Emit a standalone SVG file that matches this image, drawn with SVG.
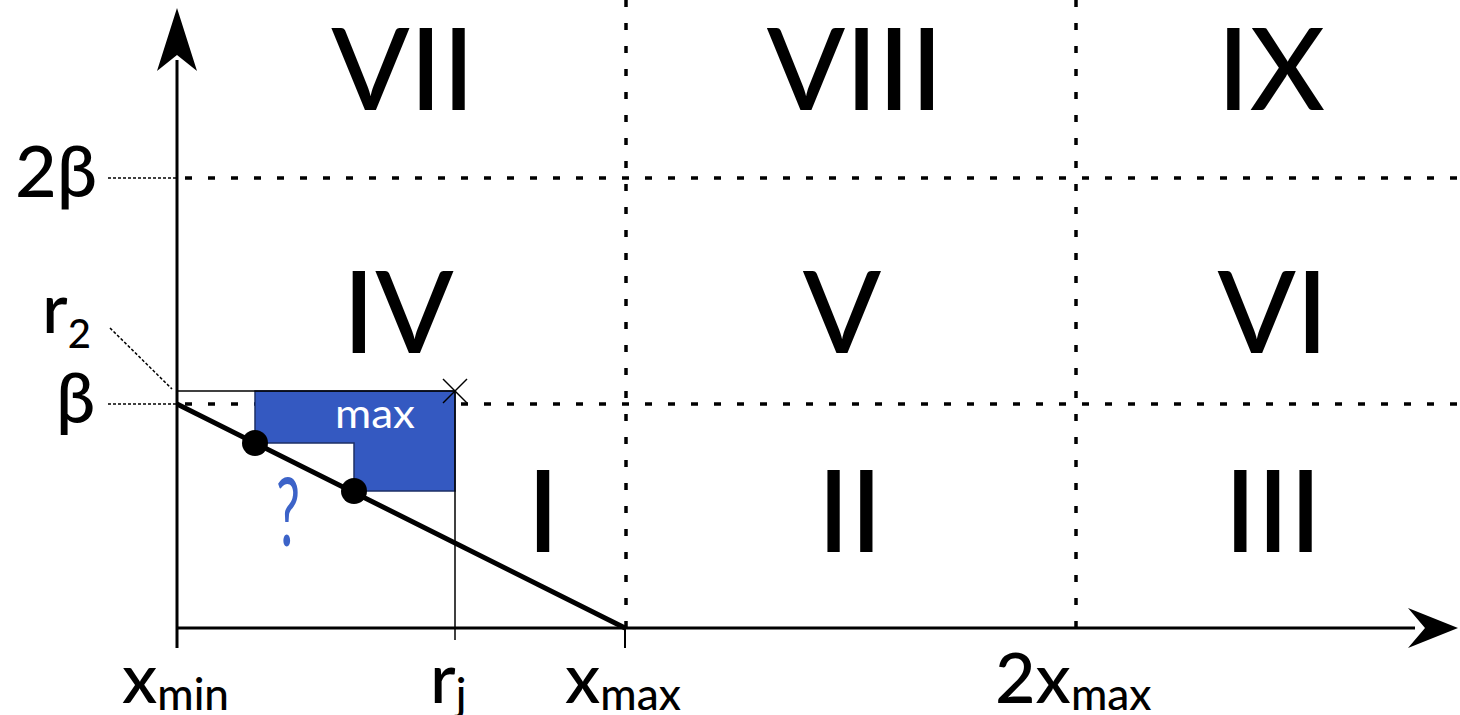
<svg xmlns="http://www.w3.org/2000/svg" width="1460" height="715" viewBox="0 0 1460 715">
<style>
.num{font-family:Lato,"Liberation Sans","DejaVu Sans",sans-serif;font-size:115px;font-weight:500;fill:#000;text-anchor:middle}
.lbl{font-family:Lato,"DejaVu Sans","Liberation Sans",sans-serif;font-weight:500;fill:#000}
.axis{stroke:#000;stroke-width:3;fill:none}
.thin{stroke:#000;stroke-width:1.5;fill:none}
.dash{stroke:#000;stroke-width:3.5;stroke-dasharray:7 16;fill:none}
.fine{stroke:#000;stroke-width:1.5;stroke-dasharray:3 2;fill:none}
</style>
<rect width="1460" height="715" fill="#fff"/>
<g id="connectors">
<line class="dash" x1="626" y1="0" x2="626" y2="628"/>
<line class="dash" x1="1076" y1="0" x2="1076" y2="628"/>
<line class="dash" x1="185" y1="178" x2="1460" y2="178"/>
<line class="dash" x1="185" y1="404" x2="1460" y2="404"/>
<line class="fine" x1="108" y1="178" x2="177" y2="178"/>
<line class="fine" x1="108" y1="404" x2="177" y2="404"/>
<line class="fine" x1="110" y1="328" x2="172" y2="389"/>
</g>
<g id="region">
<polygon points="255,391 455,391 455,491 354,491 354,443 255,443" fill="#3459c1" stroke="#1c2f66" stroke-width="1.5"/>
<line class="thin" x1="177" y1="391" x2="455" y2="391"/>
<line class="thin" x1="455" y1="391" x2="455" y2="640"/>
<line x1="443" y1="379" x2="467" y2="403" stroke="#000" stroke-width="1.5"/>
<line x1="443" y1="403" x2="467" y2="379" stroke="#000" stroke-width="1.5"/>
<text x="375" y="428" font-family="Lato,'Liberation Sans',sans-serif" font-size="40" fill="#fff" text-anchor="middle" textLength="80" lengthAdjust="spacingAndGlyphs">max</text>
<text x="288" y="546" font-family="Lato,'Liberation Sans',sans-serif" font-size="95" fill="#3c63c8" text-anchor="middle" textLength="24" lengthAdjust="spacingAndGlyphs">?</text>
</g>
<g id="axes">
<line class="axis" x1="177" y1="648" x2="177" y2="60"/>
<polygon points="177,8 197,71 177,55 157,71" fill="#000"/>
<line class="axis" x1="177" y1="628" x2="1415" y2="628"/>
<polygon points="1458,628 1408,608 1425,628 1408,648" fill="#000"/>
<line x1="625" y1="628" x2="625" y2="648" stroke="#000" stroke-width="2"/>
</g>
<g id="diagonal">
<line x1="177" y1="404" x2="625" y2="628" stroke="#000" stroke-width="5"/>
<circle cx="255" cy="443" r="13" fill="#000"/>
<circle cx="354" cy="491" r="13" fill="#000"/>
</g>
<g id="regions-labels">
<text class="num" x="403" y="110">VII</text>
<text class="num" x="855" y="110">VIII</text>
<text class="num" x="1271" y="110">IX</text>
<text class="num" x="398" y="353">IV</text>
<text class="num" x="842" y="353">V</text>
<text class="num" x="1273" y="353">VI</text>
<text class="num" x="543" y="552">I</text>
<text class="num" x="850" y="552">II</text>
<text class="num" x="1273" y="552">III</text>
</g>
<g id="axis-labels">
<text class="lbl" x="15" y="197" font-size="72">2β</text>
<text class="lbl" x="42" y="333" font-size="70">r<tspan font-size="40" dy="15">2</tspan></text>
<text class="lbl" x="56" y="423" font-size="70">β</text>
<text class="lbl" x="122" y="703" font-size="70">x<tspan font-size="44" dy="7">min</tspan></text>
<text class="lbl" x="430" y="703" font-size="70">r<tspan font-size="44" dy="7">j</tspan></text>
<text class="lbl" x="565" y="703" font-size="70">x<tspan font-size="44" dy="7">max</tspan></text>
<text class="lbl" x="995" y="703" font-size="70">2x<tspan font-size="44" dy="7">max</tspan></text>
</g>
</svg>
